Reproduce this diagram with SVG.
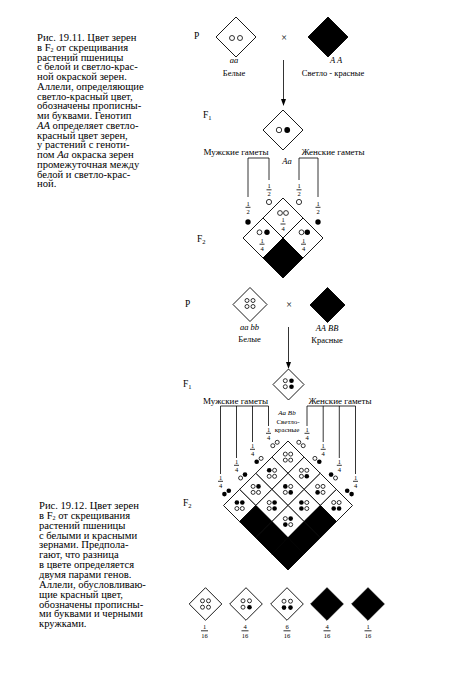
<svg xmlns="http://www.w3.org/2000/svg" width="474" height="689" viewBox="0 0 474 689">
<defs>
<style>
text{font-family:"Liberation Serif","Times New Roman",serif;fill:#000}
.cap{font-size:10.6px}
.lb{font-size:8.5px;text-anchor:middle}
.gl{font-size:9px;text-anchor:middle}
.fr{font-size:6.5px;text-anchor:middle}
.sm{font-size:7px;text-anchor:middle}
.it{font-style:italic}
.pl{font-size:9.5px}
.dw{fill:#fff;stroke:#000;stroke-width:0.9}
.db{fill:#000;stroke:#000;stroke-width:0.9}
.cw{fill:#fff;stroke:#000;stroke-width:0.8}
.cb{fill:#000}
.ln{fill:none;stroke:#000;stroke-width:0.8}
.ah{fill:#000}
</style>
</defs>
<rect width="474" height="689" fill="#fff"/>

<!-- Caption 1 -->
<g id="caption1" class="cap">
<text x="37" y="41">Рис. 19.11. Цвет зерен</text>
<text x="37" y="50.8">в F<tspan font-size="6" dy="1.2">2</tspan><tspan dy="-1.2"> от скрещивания</tspan></text>
<text x="37" y="60.5">растений пшеницы</text>
<text x="37" y="70.3">с белой и светло-крас-</text>
<text x="37" y="80">ной окраской зерен.</text>
<text x="37" y="89.8">Аллели, определяющие</text>
<text x="37" y="99.5">светло-красный цвет,</text>
<text x="37" y="109.3">обозначены прописны-</text>
<text x="37" y="119">ми буквами. Генотип</text>
<text x="37" y="128.8"><tspan font-style="italic">AA</tspan> определяет светло-</text>
<text x="37" y="138.5">красный цвет зерен,</text>
<text x="37" y="148.3">у растений с геноти-</text>
<text x="37" y="158">пом <tspan font-style="italic">Aa</tspan> окраска зерен</text>
<text x="37" y="167.8">промежуточная между</text>
<text x="37" y="177.5">белой и светло-крас-</text>
<text x="37" y="187.3">ной.</text>
</g>

<!-- Caption 2 -->
<g id="caption2" class="cap">
<text x="39" y="509">Рис. 19.12. Цвет зерен</text>
<text x="39" y="518.9">в F<tspan font-size="6" dy="1.2">2</tspan><tspan dy="-1.2"> от скрещивания</tspan></text>
<text x="39" y="528.7">растений пшеницы</text>
<text x="39" y="538.6">с белыми и красными</text>
<text x="39" y="548.4">зернами. Предпола-</text>
<text x="39" y="558.3">гают, что разница</text>
<text x="39" y="568.1">в цвете определяется</text>
<text x="39" y="578">двумя парами генов.</text>
<text x="39" y="587.8">Аллели, обусловливаю-</text>
<text x="39" y="597.7">щие красный цвет,</text>
<text x="39" y="607.5">обозначены прописны-</text>
<text x="39" y="617.4">ми буквами и черными</text>
<text x="39" y="627.2">кружками.</text>
</g>

<!-- Generation labels -->
<g id="gen-labels" class="pl">
<text x="194" y="39">P</text>
<text x="203" y="118">F<tspan font-size="6.5" dy="2">1</tspan></text>
<text x="197" y="242">F<tspan font-size="6.5" dy="2">2</tspan></text>
<text x="185" y="307">P</text>
<text x="183" y="387">F<tspan font-size="6.5" dy="2">1</tspan></text>
<text x="183" y="506">F<tspan font-size="6.5" dy="2">2</tspan></text>
</g>

<!-- Connectors -->
<g id="connectors">
<line class="ln" x1="283.5" y1="60" x2="283.5" y2="100"/>
<polygon class="ah" points="281,99 286,99 283.5,106"/>
<polyline class="ln" points="248,197 248,158 269,158 269,180"/>
<polyline class="ln" points="299,180 299,158 318,158 318,197"/>
<line class="ln" x1="288.5" y1="327" x2="288.5" y2="363"/>
<polygon class="ah" points="286,362 291,362 288.5,369"/>
<line class="ln" x1="220.5" y1="406" x2="268.5" y2="406"/>
<line class="ln" x1="220.5" y1="406" x2="220.5" y2="474"/>
<line class="ln" x1="236.5" y1="406" x2="236.5" y2="458"/>
<line class="ln" x1="252.5" y1="406" x2="252.5" y2="442"/>
<line class="ln" x1="268.5" y1="406" x2="268.5" y2="426"/>
<line class="ln" x1="307" y1="406" x2="355.5" y2="406"/>
<line class="ln" x1="307" y1="406" x2="307" y2="426"/>
<line class="ln" x1="323.2" y1="406" x2="323.2" y2="442"/>
<line class="ln" x1="339.3" y1="406" x2="339.3" y2="458"/>
<line class="ln" x1="355.5" y1="406" x2="355.5" y2="474"/>
</g>

<!-- ===== Figure 19.11 ===== -->
<g id="p-white-aa">
<polygon class="dw" points="236,17 256,37 236,57 216,37"/>
<circle class="cw" cx="232" cy="38" r="2.5"/>
<circle class="cw" cx="240" cy="38" r="2.5"/>
<text class="lb it" x="234" y="62.5">aa</text>
<text class="lb" x="234" y="76">Белые</text>
</g>
<text id="cross1" x="284" y="41" font-size="10" text-anchor="middle" font-family="Liberation Sans, sans-serif">×</text>
<g id="p-red-AA">
<polygon class="db" points="328,17 348,37 328,57 308,37"/>
<text class="lb it" x="336" y="62.5">A A</text>
<text class="lb" x="333" y="76">Светло - красные</text>
</g>

<g id="f1-Aa">
<polygon class="dw" points="283,110 303,130 283,150 263,130"/>
<circle class="cw" cx="279" cy="130" r="2.7"/>
<circle class="cb" cx="287.2" cy="130" r="2.9"/>
<text class="lb it" x="287" y="164">Aa</text>
</g>

<g id="gametes1">
<text class="gl" x="236" y="154.5">Мужские гаметы</text>
<text class="gl" x="333" y="154.5">Женские гаметы</text>
<text class="fr" x="248" y="205.5">1</text><line class="ln" x1="245.5" y1="207.3" x2="250.5" y2="207.3"/><text class="fr" x="248" y="214">2</text>
<text class="fr" x="269" y="188">1</text><line class="ln" x1="266.5" y1="189.8" x2="271.5" y2="189.8"/><text class="fr" x="269" y="196.3">2</text>
<text class="fr" x="299" y="188">1</text><line class="ln" x1="296.5" y1="189.8" x2="301.5" y2="189.8"/><text class="fr" x="299" y="196.3">2</text>
<text class="fr" x="318" y="205.5">1</text><line class="ln" x1="315.5" y1="207.3" x2="320.5" y2="207.3"/><text class="fr" x="318" y="214">2</text>
<circle class="cb" cx="248" cy="222" r="2.7"/>
<circle class="cw" cx="269" cy="202" r="2.6"/>
<circle class="cw" cx="299" cy="202" r="2.6"/>
<circle class="cb" cx="318" cy="222" r="2.7"/>
</g>

<g id="f2-grid1">
<polygon class="dw" points="283,198 303,218 283,238 263,218"/>
<polygon class="dw" points="263,218 283,238 263,258 243,238"/>
<polygon class="dw" points="303,218 323,238 303,258 283,238"/>
<polygon class="db" points="283,238 303,258 283,278 263,258"/>
<circle class="cw" cx="280" cy="213" r="2.4"/>
<circle class="cw" cx="286" cy="213" r="2.4"/>
<text class="fr" x="283" y="222.3">1</text><line class="ln" x1="280.5" y1="224" x2="285.5" y2="224"/><text class="fr" x="283" y="230.5">4</text>
<circle class="cw" cx="259.5" cy="232.3" r="2.4"/>
<circle class="cb" cx="267" cy="232.3" r="2.7"/>
<text class="fr" x="262" y="242.5">1</text><line class="ln" x1="259.5" y1="244.2" x2="264.5" y2="244.2"/><text class="fr" x="262" y="250.7">4</text>
<circle class="cw" cx="301.5" cy="232.3" r="2.4"/>
<circle class="cb" cx="307.3" cy="232.3" r="2.7"/>
<text class="fr" x="303.5" y="242.5">1</text><line class="ln" x1="301" y1="244.2" x2="306" y2="244.2"/><text class="fr" x="303.5" y="250.7">4</text>
</g>

<!-- ===== Figure 19.12 ===== -->
<g id="p-white-aabb">
<polygon class="dw" points="250,287.5 267,304.5 250,321.5 233,304.5"/>
<circle class="cw" cx="247" cy="300.5" r="2"/>
<circle class="cw" cx="253" cy="300.5" r="2"/>
<circle class="cw" cx="247" cy="306.5" r="2"/>
<circle class="cw" cx="253" cy="306.5" r="2"/>
<text class="lb it" x="249.5" y="329.5">aa  bb</text>
<text class="lb" x="249.5" y="342">Белые</text>
</g>
<text id="cross2" x="289" y="307.5" font-size="10" text-anchor="middle" font-family="Liberation Sans, sans-serif">×</text>
<g id="p-red-AABB">
<polygon class="db" points="327.5,287.5 345,305 327.5,322.5 310,305"/>
<text class="lb it" x="327" y="331">AA  BB</text>
<text class="lb" x="327" y="343">Красные</text>
</g>

<g id="f1-AaBb">
<polygon class="dw" points="288.5,369 304,384.5 288.5,400 273,384.5"/>
<circle class="cw" cx="285.3" cy="380.7" r="2"/>
<circle class="cb" cx="291.5" cy="380.7" r="2.3"/>
<circle class="cw" cx="285.3" cy="386.7" r="2"/>
<circle class="cb" cx="291.5" cy="386.7" r="2.3"/>
<text class="sm it" x="287" y="414.5" font-size="7.5">Aa Bb</text>
<text class="sm" x="288" y="423.5">Светло-</text>
<text class="sm" x="287" y="431.5">красные</text>
</g>

<g id="gametes2">
<text class="gl" x="235.5" y="403.5">Мужские гаметы</text>
<text class="gl" x="340" y="403.5">Женские гаметы</text>
<text class="fr" x="268.5" y="431.5">1</text><line class="ln" x1="266" y1="433.3" x2="271" y2="433.3"/><text class="fr" x="268.5" y="440">4</text>
<text class="fr" x="252.5" y="447.5">1</text><line class="ln" x1="250" y1="449.3" x2="255" y2="449.3"/><text class="fr" x="252.5" y="456">4</text>
<text class="fr" x="236.5" y="463.5">1</text><line class="ln" x1="234" y1="465.3" x2="239" y2="465.3"/><text class="fr" x="236.5" y="472">4</text>
<text class="fr" x="220.5" y="479.5">1</text><line class="ln" x1="218" y1="481.3" x2="223" y2="481.3"/><text class="fr" x="220.5" y="488">4</text>
<text class="fr" x="307" y="431.5">1</text><line class="ln" x1="304.5" y1="433.3" x2="309.5" y2="433.3"/><text class="fr" x="307" y="440">4</text>
<text class="fr" x="323.2" y="447.5">1</text><line class="ln" x1="320.7" y1="449.3" x2="325.7" y2="449.3"/><text class="fr" x="323.2" y="456">4</text>
<text class="fr" x="339.3" y="463.5">1</text><line class="ln" x1="336.8" y1="465.3" x2="341.8" y2="465.3"/><text class="fr" x="339.3" y="472">4</text>
<text class="fr" x="355.5" y="479.5">1</text><line class="ln" x1="353" y1="481.3" x2="358" y2="481.3"/><text class="fr" x="355.5" y="488">4</text>
<!-- male pairs -->
<circle class="cw" cx="272.8" cy="445.7" r="2"/><circle class="cw" cx="277.2" cy="442.3" r="2"/>
<circle class="cb" cx="256.7" cy="461.8" r="2.3"/><circle class="cw" cx="261.1" cy="458.4" r="2"/>
<circle class="cw" cx="240.6" cy="478" r="2"/><circle class="cb" cx="245" cy="474.6" r="2.3"/>
<circle class="cb" cx="224.4" cy="494.1" r="2.3"/><circle class="cb" cx="228.8" cy="490.7" r="2.3"/>
<!-- female pairs -->
<circle class="cw" cx="298.8" cy="442.3" r="2"/><circle class="cw" cx="303.2" cy="445.7" r="2"/>
<circle class="cw" cx="314.9" cy="458.4" r="2"/><circle class="cb" cx="319.3" cy="461.8" r="2.3"/>
<circle class="cb" cx="331.1" cy="474.6" r="2.3"/><circle class="cw" cx="335.5" cy="478" r="2"/>
<circle class="cb" cx="347.2" cy="490.7" r="2.3"/><circle class="cb" cx="351.6" cy="494.1" r="2.3"/>
</g>

<g id="f2-grid2">
<polygon class="dw" points="288,441 304.1,457.1 288,473.3 271.9,457.1"/>
<polygon class="dw" points="304.1,457.1 320.3,473.3 304.1,489.4 288,473.3"/>
<polygon class="dw" points="320.3,473.3 336.4,489.4 320.3,505.5 304.1,489.4"/>
<polygon class="dw" points="336.4,489.4 352.5,505.5 336.4,521.6 320.3,505.5"/>
<polygon class="dw" points="271.9,457.1 288,473.3 271.9,489.4 255.8,473.3"/>
<polygon class="dw" points="288,473.3 304.1,489.4 288,505.5 271.9,489.4"/>
<polygon class="dw" points="304.1,489.4 320.3,505.5 304.1,521.6 288,505.5"/>
<polygon class="db" points="320.3,505.5 336.4,521.6 320.3,537.8 304.1,521.6"/>
<polygon class="dw" points="255.8,473.3 271.9,489.4 255.8,505.5 239.6,489.4"/>
<polygon class="dw" points="271.9,489.4 288,505.5 271.9,521.6 255.8,505.5"/>
<polygon class="dw" points="288,505.5 304.1,521.6 288,537.8 271.9,521.6"/>
<polygon class="db" points="304.1,521.6 320.3,537.8 304.1,553.9 288,537.8"/>
<polygon class="dw" points="239.6,489.4 255.8,505.5 239.6,521.6 223.5,505.5"/>
<polygon class="db" points="255.8,505.5 271.9,521.6 255.8,537.8 239.6,521.6"/>
<polygon class="db" points="271.9,521.6 288,537.8 271.9,553.9 255.8,537.8"/>
<polygon class="db" points="288,537.8 304.1,553.9 288,570 271.9,553.9"/>
<!-- (0,0) -->
<circle class="cw" cx="285.3" cy="454.1" r="2"/><circle class="cw" cx="290.7" cy="454.1" r="2"/><circle class="cw" cx="285.3" cy="460.1" r="2"/><circle class="cw" cx="290.7" cy="460.1" r="2"/>
<!-- (0,1) -->
<circle class="cw" cx="301.4" cy="470.3" r="2"/><circle class="cw" cx="306.8" cy="470.3" r="2"/><circle class="cw" cx="301.4" cy="476.3" r="2"/><circle class="cb" cx="306.8" cy="476.3" r="2.3"/>
<!-- (0,2) -->
<circle class="cw" cx="317.6" cy="486.4" r="2"/><circle class="cw" cx="323" cy="486.4" r="2"/><circle class="cb" cx="317.6" cy="492.4" r="2.3"/><circle class="cw" cx="323" cy="492.4" r="2"/>
<!-- (0,3) -->
<circle class="cw" cx="333.7" cy="502.5" r="2"/><circle class="cw" cx="339.1" cy="502.5" r="2"/><circle class="cb" cx="333.7" cy="508.5" r="2.3"/><circle class="cb" cx="339.1" cy="508.5" r="2.3"/>
<!-- (1,0) -->
<circle class="cb" cx="269.2" cy="470.3" r="2.3"/><circle class="cw" cx="274.6" cy="470.3" r="2"/><circle class="cw" cx="269.2" cy="476.3" r="2"/><circle class="cw" cx="274.6" cy="476.3" r="2"/>
<!-- (1,1) -->
<circle class="cb" cx="285.3" cy="486.4" r="2.3"/><circle class="cw" cx="290.7" cy="486.4" r="2"/><circle class="cw" cx="285.3" cy="492.4" r="2"/><circle class="cb" cx="290.7" cy="492.4" r="2.3"/>
<!-- (1,2) -->
<circle class="cb" cx="301.4" cy="502.5" r="2.3"/><circle class="cw" cx="306.8" cy="502.5" r="2"/><circle class="cb" cx="301.4" cy="508.5" r="2.3"/><circle class="cw" cx="306.8" cy="508.5" r="2"/>
<!-- (2,0) -->
<circle class="cw" cx="253.1" cy="486.4" r="2"/><circle class="cb" cx="258.5" cy="486.4" r="2.3"/><circle class="cw" cx="253.1" cy="492.4" r="2"/><circle class="cw" cx="258.5" cy="492.4" r="2"/>
<!-- (2,1) -->
<circle class="cw" cx="269.2" cy="502.5" r="2"/><circle class="cb" cx="274.6" cy="502.5" r="2.3"/><circle class="cw" cx="269.2" cy="508.5" r="2"/><circle class="cb" cx="274.6" cy="508.5" r="2.3"/>
<!-- (2,2) -->
<circle class="cw" cx="285.3" cy="518.6" r="2"/><circle class="cb" cx="290.7" cy="518.6" r="2.3"/><circle class="cb" cx="285.3" cy="524.6" r="2.3"/><circle class="cw" cx="290.7" cy="524.6" r="2"/>
<!-- (3,0) -->
<circle class="cb" cx="236.9" cy="502.5" r="2.3"/><circle class="cb" cx="242.3" cy="502.5" r="2.3"/><circle class="cw" cx="236.9" cy="508.5" r="2"/><circle class="cw" cx="242.3" cy="508.5" r="2"/>
</g>

<!-- Phenotype classes -->
<g id="class-0">
<polygon class="dw" points="205.5,587.7 221.8,604 205.5,620.3 189.2,604"/>
<circle class="cw" cx="202.5" cy="600.8" r="2"/><circle class="cw" cx="208.5" cy="600.8" r="2"/><circle class="cw" cx="202.5" cy="607.2" r="2"/><circle class="cw" cx="208.5" cy="607.2" r="2"/>
<text class="fr" x="204.5" y="629" font-size="7">1</text><line class="ln" x1="201" y1="630.8" x2="208" y2="630.8"/><text class="fr" x="204.5" y="637.5" font-size="7">16</text>
</g>
<g id="class-1">
<polygon class="dw" points="246,587.7 262.3,604 246,620.3 229.7,604"/>
<circle class="cw" cx="243" cy="600.8" r="2"/><circle class="cw" cx="249.5" cy="600.8" r="2"/><circle class="cw" cx="243" cy="607.2" r="2"/><circle class="cb" cx="249.5" cy="607.2" r="2.3"/>
<text class="fr" x="245" y="629" font-size="7">4</text><line class="ln" x1="241.5" y1="630.8" x2="248.5" y2="630.8"/><text class="fr" x="245" y="637.5" font-size="7">16</text>
</g>
<g id="class-2">
<polygon class="dw" points="287,587.7 303.3,604 287,620.3 270.7,604"/>
<circle class="cw" cx="284" cy="601.2" r="2"/><circle class="cw" cx="290.5" cy="601.2" r="2"/><circle class="cb" cx="284" cy="607.6" r="2.3"/><circle class="cb" cx="290.5" cy="607.6" r="2.3"/>
<text class="fr" x="287" y="629" font-size="7">6</text><line class="ln" x1="283.5" y1="630.8" x2="290.5" y2="630.8"/><text class="fr" x="287" y="637.5" font-size="7">16</text>
</g>
<g id="class-3">
<polygon class="db" points="327,587.7 343.3,604 327,620.3 310.7,604"/>
<text class="fr" x="327" y="629" font-size="7">4</text><line class="ln" x1="323.5" y1="630.8" x2="330.5" y2="630.8"/><text class="fr" x="327" y="637.5" font-size="7">16</text>
</g>
<g id="class-4">
<polygon class="db" points="368,587.7 384.3,604 368,620.3 351.7,604"/>
<text class="fr" x="368" y="629" font-size="7">1</text><line class="ln" x1="364.5" y1="630.8" x2="371.5" y2="630.8"/><text class="fr" x="368" y="637.5" font-size="7">16</text>
</g>
</svg>
